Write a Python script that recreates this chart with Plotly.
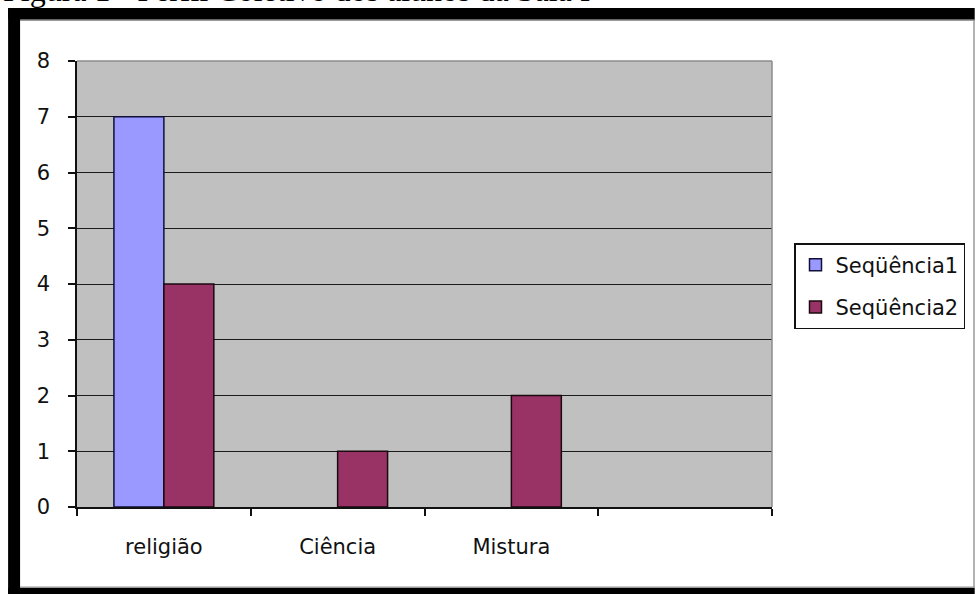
import plotly.graph_objects as go

# Chart data
categories = ["religião", "Ciência", "Mistura", " "]
seq1 = [7, 0, 0, None]
seq2 = [4, 1, 2, None]
series_names = ["Seqüência1", "Seqüência2"]
y_ticks = [0, 1, 2, 3, 4, 5, 6, 7, 8]
title_text = "Figura 1 - Perfil Coletivo dos alunos da Sala I"

W, H = 976, 594
PL, PR, PT, PB = 77, 773, 61, 507  # plot area in pixels


def px(x):
    return (x - PL) / (PR - PL)


def py(y):
    return (PB - y) / (PB - PT)


def outline_widths(values, w=1.5):
    # no outline on empty (zero-height) bars
    return [w if v else 0 for v in values]


FONT = "DejaVu Sans"

fig = go.Figure()
fig.add_trace(go.Bar(
    x=categories, y=seq1, name=series_names[0], legendgroup="a",
    marker=dict(color="#9999FF",
                line=dict(color="#10103a", width=outline_widths(seq1))),
))
fig.add_trace(go.Bar(
    x=categories, y=seq2, name=series_names[1], legendgroup="b",
    marker=dict(color="#993366",
                line=dict(color="#1a0a10", width=outline_widths(seq2))),
))

shapes = [
    # light grey border on top and right of the plot area
    dict(type="line", xref="paper", yref="paper", x0=0, x1=1, y0=1, y1=1,
         line=dict(color="#8c8c8c", width=1.5), layer="above"),
    dict(type="line", xref="paper", yref="paper", x0=1, x1=1, y0=0, y1=1,
         line=dict(color="#8c8c8c", width=1.5), layer="above"),
    # outer frame
    dict(type="line", xref="paper", yref="paper", x0=px(975.3), x1=px(975.3),
         y0=py(19), y1=py(588), line=dict(color="#9a9a9a", width=1.5)),
    dict(type="line", xref="paper", yref="paper", x0=px(20), x1=px(976),
         y0=py(20.3), y1=py(20.3), line=dict(color="#9a9a9a", width=1.5)),
    dict(type="line", xref="paper", yref="paper", x0=px(20), x1=px(976),
         y0=py(587.3), y1=py(587.3), line=dict(color="#9a9a9a", width=1.5)),
    dict(type="rect", xref="paper", yref="paper", x0=px(8), x1=px(976),
         y0=py(8), y1=py(19.5), fillcolor="black", line=dict(width=0)),
    dict(type="rect", xref="paper", yref="paper", x0=px(8), x1=px(20),
         y0=py(8), y1=py(594), fillcolor="black", line=dict(width=0)),
    dict(type="rect", xref="paper", yref="paper", x0=px(8), x1=px(976),
         y0=py(588), y1=py(594), fillcolor="black", line=dict(width=0)),
]

fig.update_layout(
    width=W, height=H, autosize=False,
    margin=dict(l=PL, r=W - PR, t=PT, b=H - PB, pad=0),
    paper_bgcolor="white", plot_bgcolor="#C0C0C0",
    font=dict(family=FONT, size=21, color="#111111"),
    barmode="group", bargap=0.425, bargroupgap=0,
    showlegend=True,
    legend=dict(
        x=px(794), y=py(243), xanchor="left", yanchor="top",
        bgcolor="white", bordercolor="#111111", borderwidth=1.5,
        font=dict(family=FONT, size=21, color="#111111"),
        traceorder="grouped", tracegroupgap=12,
        itemclick=False, itemdoubleclick=False,
    ),
    xaxis=dict(
        type="category", categoryorder="array", categoryarray=categories,
        range=[-0.5, 3.5], showgrid=False, zeroline=False,
        showline=True, linecolor="#111111", linewidth=1.5,
        ticks="outside", tickson="boundaries", ticklen=7, tickwidth=1.5,
        tickcolor="#111111", ticklabelstandoff=20,
        tickfont=dict(family=FONT, size=21, color="#111111"),
    ),
    yaxis=dict(
        range=[0, 8], tickvals=y_ticks, showgrid=True,
        gridcolor="#1a1a1a", gridwidth=1.2, zeroline=False,
        showline=True, linecolor="#111111", linewidth=1.5,
        ticks="outside", ticklen=7, tickwidth=1.5, tickcolor="#111111",
        ticklabelstandoff=14,
        tickfont=dict(family=FONT, size=21, color="#111111"),
    ),
    shapes=shapes,
    annotations=[dict(
        text=title_text, xref="paper", yref="paper",
        x=px(1), y=py(-10.5), xanchor="left", yanchor="middle",
        showarrow=False,
        font=dict(family="Liberation Serif", size=32, color="black"),
    )],
)

fig.write_html("out.html")
